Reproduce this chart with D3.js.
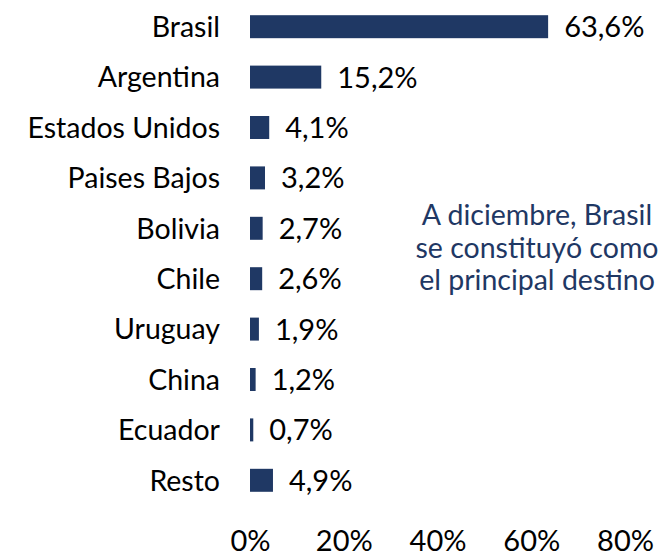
<!DOCTYPE html>
<html>
<head>
<meta charset="utf-8">
<script src="https://cdn.jsdelivr.net/npm/d3@7"></script>
<style>
  html, body { margin: 0; padding: 0; background: #fff; }
  svg text { font-family: Lato, "Open Sans", sans-serif; }
</style>
</head>
<body>
<div id="chart"></div>
<script>
// data
const countries = ["Brasil", "Argentina", "Estados Unidos", "Paises Bajos", "Bolivia",
                   "Chile", "Uruguay", "China", "Ecuador", "Resto"];
const shares = [63.6, 15.2, 4.1, 3.2, 2.7, 2.6, 1.9, 1.2, 0.7, 4.9];
const shareLabels = ["63,6%", "15,2%", "4,1%", "3,2%", "2,7%", "2,6%", "1,9%", "1,2%", "0,7%", "4,9%"];
const xTicks = [0, 20, 40, 60, 80];
const note = ["A diciembre, Brasil", "se constituyó como", "el principal destino"];

const W = 664, H = 558;
const navy = "#1f3864";

const svg = d3.select("#chart").append("svg")
    .attr("width", W).attr("height", H);

const x = d3.scaleLinear().domain([0, 80]).range([250, 625]);
const y = d3.scaleBand().domain(countries).range([1.5, 505.5])
    .paddingInner(0.544).paddingOuter(0.272);

const rows = countries.map((c, i) => ({c, v: shares[i], lab: shareLabels[i]}));

// bars
svg.append("g").selectAll("rect")
  .data(rows)
  .join("rect")
    .attr("x", x(0))
    .attr("y", d => y(d.c))
    .attr("width", d => x(d.v) - x(0))
    .attr("height", y.bandwidth())
    .attr("fill", navy);

// category labels
svg.append("g").selectAll("text")
  .data(rows)
  .join("text")
    .attr("x", 220)
    .attr("y", d => y(d.c) + y.bandwidth() / 2)
    .attr("dy", "0.36em")
    .attr("text-anchor", "end")
    .attr("font-size", 28.5)
    .attr("fill", "#000")
    .text(d => d.c);

// value labels
svg.append("g").selectAll("text")
  .data(rows)
  .join("text")
    .attr("x", d => x(d.v) + 16)
    .attr("y", d => y(d.c) + y.bandwidth() / 2)
    .attr("dy", "0.36em")
    .attr("font-size", 29)
    .attr("fill", "#000")
    .text(d => d.lab);

// x axis, labels only
const xAxis = svg.append("g")
    .attr("transform", "translate(0,523)")
    .call(d3.axisBottom(x).tickValues(xTicks).tickFormat(d => d + "%").tickSize(0).tickPadding(0));
xAxis.select(".domain").remove();
xAxis.selectAll("text")
    .attr("font-size", 29)
    .attr("font-family", "Lato, sans-serif")
    .attr("fill", "#000")
    .attr("dy", "0.95em");

// note
svg.append("text")
    .attr("x", 537).attr("y", 225)
    .attr("text-anchor", "middle")
    .attr("font-size", 28.5)
    .attr("fill", navy)
  .selectAll("tspan")
  .data(note)
  .join("tspan")
    .attr("x", 537)
    .attr("dy", (d, i) => i === 0 ? 0 : 32.5)
    .text(d => d);
</script>
</body>
</html>
